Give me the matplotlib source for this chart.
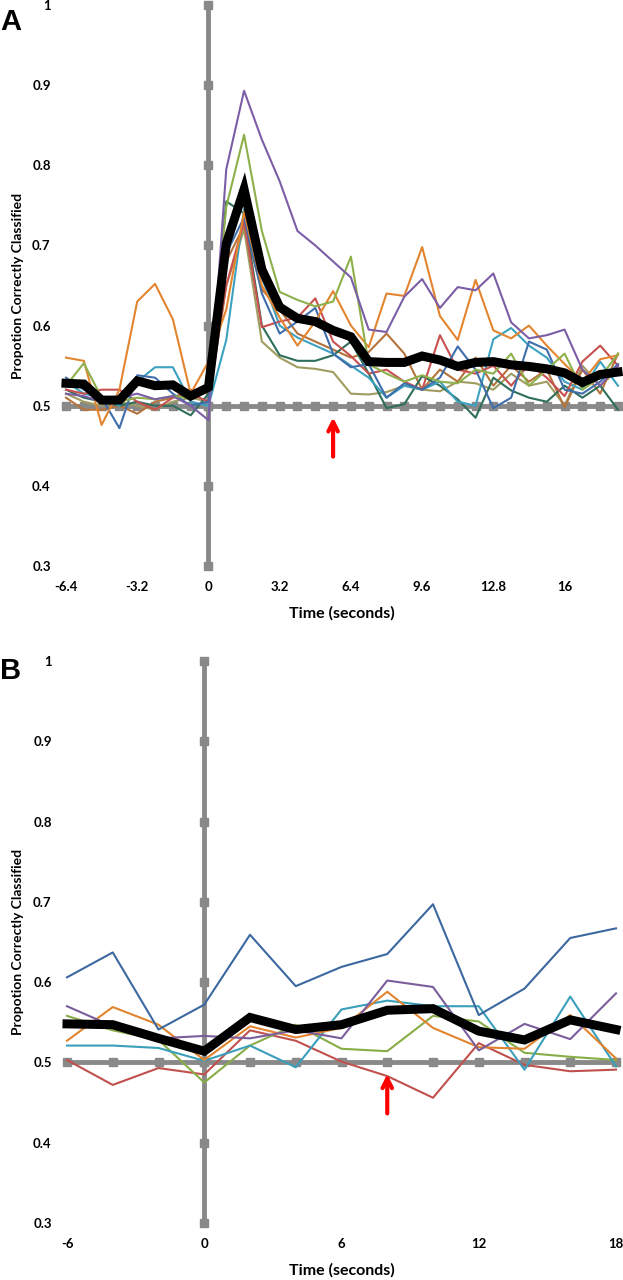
import matplotlib
matplotlib.use("Agg")
import matplotlib.pyplot as plt
import numpy as np

plt.rcParams['font.family'] = ['Lato', 'DejaVu Sans']

# ---- panel A data (TR = 0.8 s) ----
time_a = np.arange(32) * 0.8 - 6.4
mean_a = [0.528, 0.527, 0.507, 0.507, 0.531, 0.525, 0.526, 0.512, 0.523, 0.702,
          0.770, 0.670, 0.623, 0.609, 0.605, 0.594, 0.586, 0.555, 0.554, 0.554,
          0.562, 0.557, 0.549, 0.554, 0.555, 0.551, 0.549, 0.546, 0.541, 0.529,
          0.539, 0.542]
orange_a = [0.560, 0.556, 0.476, 0.520, 0.630, 0.652, 0.608, 0.515, 0.555, 0.620,
            0.742, 0.650, 0.610, 0.575, 0.605, 0.643, 0.600, 0.573, 0.640, 0.637,
            0.698, 0.612, 0.582, 0.657, 0.594, 0.584, 0.600, 0.575, 0.552, 0.530,
            0.558, 0.563]
purple_a = [0.515, 0.512, 0.505, 0.510, 0.515, 0.508, 0.512, 0.500, 0.482, 0.795,
            0.893, 0.832, 0.780, 0.718, 0.700, 0.680, 0.660, 0.595, 0.592, 0.636,
            0.658, 0.622, 0.648, 0.644, 0.665, 0.604, 0.584, 0.588, 0.595, 0.545,
            0.525, 0.550]
green_a = [0.525, 0.553, 0.510, 0.505, 0.510, 0.508, 0.512, 0.510, 0.520, 0.748,
           0.838, 0.718, 0.642, 0.632, 0.624, 0.630, 0.686, 0.552, 0.540, 0.530,
           0.538, 0.530, 0.528, 0.545, 0.540, 0.565, 0.525, 0.545, 0.565, 0.520,
           0.535, 0.565]
blue_a = [0.535, 0.520, 0.510, 0.472, 0.538, 0.535, 0.515, 0.500, 0.505, 0.690,
          0.735, 0.640, 0.590, 0.605, 0.622, 0.565, 0.548, 0.552, 0.510, 0.528,
          0.520, 0.535, 0.574, 0.545, 0.497, 0.510, 0.580, 0.570, 0.520, 0.515,
          0.530, 0.552]
red_a = [0.520, 0.515, 0.520, 0.520, 0.505, 0.495, 0.510, 0.515, 0.505, 0.650,
         0.730, 0.598, 0.605, 0.610, 0.634, 0.580, 0.562, 0.540, 0.545, 0.530,
         0.520, 0.588, 0.545, 0.540, 0.550, 0.525, 0.552, 0.535, 0.512, 0.555,
         0.575, 0.550]
teal_a = [0.530, 0.515, 0.510, 0.500, 0.530, 0.548, 0.548, 0.505, 0.500, 0.582,
          0.745, 0.660, 0.600, 0.585, 0.575, 0.565, 0.550, 0.535, 0.510, 0.525,
          0.520, 0.530, 0.505, 0.500, 0.583, 0.597, 0.575, 0.560, 0.530, 0.520,
          0.555, 0.525]
dkgreen_a = [0.520, 0.510, 0.505, 0.500, 0.505, 0.500, 0.500, 0.488, 0.515, 0.755,
             0.740, 0.600, 0.563, 0.556, 0.556, 0.563, 0.580, 0.540, 0.497, 0.502,
             0.537, 0.525, 0.508, 0.485, 0.535, 0.519, 0.510, 0.505, 0.525, 0.510,
             0.525, 0.495]
olive_a = [0.515, 0.505, 0.500, 0.505, 0.500, 0.495, 0.505, 0.510, 0.505, 0.650,
           0.720, 0.580, 0.560, 0.548, 0.546, 0.542, 0.515, 0.514, 0.517, 0.525,
           0.520, 0.518, 0.530, 0.528, 0.520, 0.540, 0.525, 0.530, 0.500, 0.550,
           0.525, 0.545]
brown_a = [0.510, 0.495, 0.495, 0.500, 0.490, 0.505, 0.510, 0.520, 0.515, 0.680,
           0.725, 0.645, 0.620, 0.590, 0.580, 0.570, 0.560, 0.567, 0.590, 0.565,
           0.520, 0.545, 0.530, 0.560, 0.525, 0.550, 0.530, 0.545, 0.498, 0.545,
           0.515, 0.565]
xticks_a = [-6.4, -3.2, 0, 3.2, 6.4, 9.6, 12.8, 16]
xlabels_a = ['-6.4', '-3.2', '0', '3.2', '6.4', '9.6', '12.8', '16']
arrow_a = 5.6

# ---- panel B data (2 s steps) ----
time_b = np.arange(13) * 2 - 6
mean_b = [0.548, 0.547, 0.530, 0.514, 0.556, 0.541, 0.547, 0.565, 0.567, 0.539,
          0.528, 0.553, 0.541]
blue_b = [0.606, 0.637, 0.541, 0.572, 0.659, 0.595, 0.619, 0.635, 0.697, 0.559,
          0.592, 0.655, 0.667]
purple_b = [0.570, 0.545, 0.530, 0.533, 0.530, 0.540, 0.530, 0.602, 0.594, 0.515,
            0.548, 0.529, 0.586]
orange_b = [0.527, 0.569, 0.547, 0.503, 0.545, 0.531, 0.543, 0.588, 0.543, 0.519,
            0.517, 0.559, 0.505]
teal_b = [0.521, 0.521, 0.518, 0.502, 0.521, 0.494, 0.566, 0.577, 0.570, 0.570,
          0.491, 0.582, 0.495]
green_b = [0.558, 0.540, 0.528, 0.475, 0.521, 0.547, 0.517, 0.514, 0.558, 0.551,
           0.512, 0.507, 0.503]
red_b = [0.503, 0.472, 0.493, 0.485, 0.540, 0.527, 0.501, 0.483, 0.456, 0.524,
         0.497, 0.489, 0.491]
xticks_b = [-6, 0, 6, 12, 18]
xlabels_b = ['-6', '0', '6', '12', '18']
arrow_b = 8

yticks = [0.3, 0.4, 0.5, 0.6, 0.7, 0.8, 0.9, 1.0]
ylabels = ['0.3', '0.4', '0.5', '0.6', '0.7', '0.8', '0.9', '1']

series_a = [(olive_a, '#A09C60'), (brown_a, '#B5733C'), (dkgreen_a, '#2F6E5B'),
            (teal_a, '#3CA2BF'), (red_a, '#C8504F'), (blue_a, '#3F6EAB'),
            (orange_a, '#E3852F'), (green_a, '#8DB04A'), (purple_a, '#7B5EA6')]
series_b = [(red_b, '#C0504D'), (green_b, '#88AD47'), (teal_b, '#3A9FBB'),
            (orange_b, '#E2842E'), (purple_b, '#7A5E9C'), (blue_b, '#3C68A0')]

W, H = 623, 1280
fig = plt.figure(figsize=(W / 100, H / 100), dpi=100)
gray = '#898989'


def panel(rect, t, mean, series, xticks, xlabels, arrow_x, letter, letter_y):
    ax = fig.add_axes(rect)
    ax.set_xlim(t[0], t[-1])
    ax.set_ylim(0.3, 1.0)
    for s in ax.spines.values():
        s.set_visible(False)

    # axes drawn as thick grey lines crossing at (0, 0.5)
    ax.plot(t, [0.5] * len(t), color=gray, lw=3.5, marker='s', ms=5.5,
            clip_on=False, zorder=1)
    ax.plot([0] * len(yticks), yticks, color=gray, lw=3.5, marker='s', ms=5.5,
            clip_on=False, zorder=1)

    for vals, c in series:
        ax.plot(t, vals, color=c, lw=1.5, zorder=2, clip_on=False)
    ax.plot(t, mean, color='black', lw=6.5, zorder=3, solid_joinstyle='miter',
            clip_on=False)

    ax.annotate('', xy=(arrow_x, 0.489), xytext=(arrow_x, 0.433),
                arrowprops=dict(arrowstyle='->', color='#FF0000', lw=3,
                                mutation_scale=17), zorder=4)

    ax.set_xticks(xticks)
    ax.set_xticklabels(xlabels)
    ax.set_yticks(yticks)
    ax.set_yticklabels(ylabels)
    ax.tick_params(length=0, labelsize=9.5)
    ax.tick_params(axis='y', pad=11)
    ax.tick_params(axis='x', pad=11)
    for lab in ax.get_xticklabels() + ax.get_yticklabels():
        lab.set_fontweight('bold')
    ax.set_xlabel('Time (seconds)', fontsize=11.5, fontweight='bold')
    ax.xaxis.set_label_coords(0.5, -0.085)
    ax.xaxis.label.set_va('center')

    fig.text(18 / W, rect[1] + rect[3] / 2, 'Propotion Correctly Classified',
             rotation=90, ha='center', va='center', fontsize=10,
             fontweight='bold')
    fig.text(0.0, 1 - letter_y / H, letter, fontsize=21, fontweight='bold',
             family='Liberation Sans', ha='left', va='baseline')
    return ax


panel([66 / W, 1 - 566 / H, 552 / W, 561 / H], time_a, mean_a, series_a,
      xticks_a, xlabels_a, arrow_a, 'A', 30)
panel([67 / W, 1 - 1223 / H, 549 / W, 562 / H], time_b, mean_b, series_b,
      xticks_b, xlabels_b, arrow_b, 'B', 679)

fig.savefig('out.png', dpi=100)
